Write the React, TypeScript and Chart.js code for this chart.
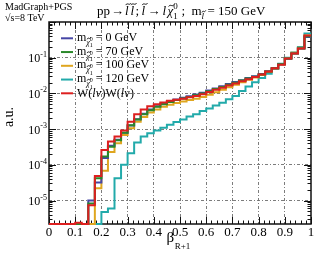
import React, { useEffect, useRef } from "react";
import { Chart, registerables } from "chart.js";

Chart.register(...registerables);

// ---------------- data ----------------
const BIN_EDGES = [
  0, 0.025, 0.05, 0.075, 0.1, 0.125, 0.15, 0.175, 0.2, 0.225, 0.25, 0.275, 0.3, 0.325,
  0.35, 0.375, 0.4, 0.425, 0.45, 0.475, 0.5, 0.525, 0.55, 0.575, 0.6, 0.625, 0.65, 0.675,
  0.7, 0.725, 0.75, 0.775, 0.8, 0.825, 0.85, 0.875, 0.9, 0.925, 0.95, 0.975, 1,
];

const M0_VALUES = [
  0, 0, 0, 0, 0, 0, 1.0e-5, 3.2e-5, 1.55e-4, 3.4e-4, 5.0e-4, 7.9e-4, 1.26e-3, 1.9e-3,
  2.7e-3, 3.55e-3, 4.4e-3, 5.2e-3, 6.0e-3, 6.8e-3, 7.6e-3, 8.3e-3, 9.3e-3, 1.05e-2,
  1.2e-2, 1.38e-2, 1.58e-2, 1.82e-2, 2.1e-2, 2.35e-2, 2.7e-2, 3.0e-2, 3.5e-2, 4.2e-2,
  5.1e-2, 6.6e-2, 9.3e-2, 0.132, 0.182, 0.38,
];
const M70_VALUES = [
  0, 0, 0, 0, 0, 0, 8.3e-6, 4.2e-5, 1.7e-4, 3.2e-4, 4.9e-4, 7.9e-4, 1.29e-3, 1.86e-3,
  2.6e-3, 3.4e-3, 4.2e-3, 5.0e-3, 5.75e-3, 6.5e-3, 7.2e-3, 7.9e-3, 8.9e-3, 1.0e-2,
  1.15e-2, 1.32e-2, 1.51e-2, 1.74e-2, 2.0e-2, 2.3e-2, 2.6e-2, 2.95e-2, 3.4e-2, 4.1e-2,
  5.1e-2, 6.6e-2, 9.5e-2, 0.132, 0.182, 0.4,
];
const M100_VALUES = [
  0, 0, 0, 0, 0, 0, 0, 2.2e-5, 6.8e-5, 2.3e-4, 4.0e-4, 6.8e-4, 1.05e-3, 1.6e-3,
  2.2e-3, 2.9e-3, 3.55e-3, 4.2e-3, 4.8e-3, 5.4e-3, 5.9e-3, 6.5e-3, 7.1e-3, 7.9e-3,
  9.1e-3, 1.07e-2, 1.26e-2, 1.48e-2, 1.74e-2, 2.04e-2, 2.4e-2, 2.8e-2, 3.3e-2, 4.0e-2,
  5.0e-2, 6.6e-2, 9.5e-2, 0.138, 0.19, 0.417,
];
const M120_VALUES = [
  0, 0, 0, 0, 0, 0, 0, 0, 4.8e-6, 6.0e-6, 4.2e-5, 1.0e-4, 2.1e-4, 4.2e-4,
  6.2e-4, 7.6e-4, 9.1e-4, 1.1e-3, 1.32e-3, 1.58e-3, 1.86e-3, 2.24e-3, 2.6e-3, 3.2e-3,
  3.8e-3, 4.6e-3, 5.5e-3, 6.9e-3, 8.5e-3, 1.17e-2, 1.55e-2, 2.04e-2, 2.7e-2, 3.55e-2,
  4.9e-2, 6.8e-2, 0.1, 0.141, 0.2, 0.48,
];
const WW_VALUES = [
  0, 0, 0, 0, 2.4e-6, 0, 7.4e-6, 4.9e-5, 2.6e-4, 4.5e-4, 6.2e-4, 9.1e-4, 1.6e-3, 2.6e-3,
  3.55e-3, 4.4e-3, 5.0e-3, 5.6e-3, 6.2e-3, 6.6e-3, 7.1e-3, 7.8e-3, 8.5e-3, 9.5e-3,
  1.1e-2, 1.26e-2, 1.45e-2, 1.66e-2, 1.9e-2, 2.2e-2, 2.5e-2, 2.9e-2, 3.4e-2, 4.1e-2,
  5.1e-2, 6.3e-2, 9.5e-2, 0.132, 0.182, 0.417,
];

const NEUTRALINO_MASSES = ["0", "70", "100", "120"];

const X_TICKS = [0, 0.1, 0.2, 0.3, 0.4, 0.5, 0.6, 0.7, 0.8, 0.9, 1];
const X_TICK_LABELS = ["0", "0.1", "0.2", "0.3", "0.4", "0.5", "0.6", "0.7", "0.8", "0.9", "1"];
const X_GRID = [0.1, 0.2, 0.3, 0.4, 0.5, 0.6, 0.7, 0.8, 0.9];
const Y_TICKS = [1e-5, 1e-4, 1e-3, 1e-2, 1e-1];
const Y_TICK_EXPONENTS = ["-5", "-4", "-3", "-2", "-1"];

const Y_MIN = 2.2e-6;
const Y_MAX = 1;

// ---------------- style ----------------
const C_BLUE = "#4646a5";
const C_GREEN = "#2a882a";
const C_YELLOW = "#dfa61f";
const C_CYAN = "#22aaaa";
const C_RED = "#dd1f1f";
const SERIF = '"Liberation Serif", "DejaVu Serif", serif';

function fnt(size: number, italic = false) {
  return `${italic ? "italic " : ""}${size}px ${SERIF}`;
}

function txt(ctx: CanvasRenderingContext2D, s: string, x: number, y: number, size: number, italic = false, align: CanvasTextAlign = "left") {
  ctx.font = fnt(size, italic);
  ctx.textAlign = align;
  ctx.textBaseline = "alphabetic";
  ctx.fillText(s, x, y);
  return ctx.measureText(s).width;
}

function tilde(ctx: CanvasRenderingContext2D, cx: number, y: number, w: number) {
  ctx.save();
  ctx.lineWidth = 0.9;
  ctx.strokeStyle = "#000";
  ctx.beginPath();
  const x0 = cx - w / 2;
  ctx.moveTo(x0, y + 1);
  ctx.bezierCurveTo(x0 + w * 0.35, y - 2, x0 + w * 0.65, y + 2, x0 + w, y - 1);
  ctx.stroke();
  ctx.restore();
}

function histPoints(vals: number[]) {
  const pts = vals.map((v, i) => ({ x: BIN_EDGES[i], y: v > 0 ? v : Y_MIN }));
  const last = vals[vals.length - 1];
  pts.push({ x: BIN_EDGES[vals.length], y: last > 0 ? last : Y_MIN });
  return pts;
}

const framePlugin = {
  id: "rootFrame",
  beforeDatasetsDraw(chart: any) {
    const ctx: CanvasRenderingContext2D = chart.ctx;
    const a = chart.chartArea;
    const xs = chart.scales.x;
    const ys = chart.scales.y;
    ctx.save();
    ctx.strokeStyle = "#111";
    ctx.lineWidth = 1;
    const seg = (x1: number, y1: number, x2: number, y2: number) => {
      ctx.beginPath();
      ctx.moveTo(x1, y1);
      ctx.lineTo(x2, y2);
      ctx.stroke();
    };
    // x ticks (inside, top & bottom)
    for (let k = 0; k <= 50; k++) {
      const px = Math.round(xs.getPixelForValue(k / 50)) + 0.5;
      const L = k % 5 === 0 ? 7 : 3.5;
      seg(px, a.bottom, px, a.bottom - L);
      seg(px, a.top, px, a.top + L);
    }
    // y ticks (inside, left & right)
    for (let e = -6; e <= 0; e++) {
      for (let m = 1; m <= 9; m++) {
        const v = m * Math.pow(10, e);
        if (v < Y_MIN || v > Y_MAX) continue;
        const py = Math.round(ys.getPixelForValue(v)) + 0.5;
        const L = m === 1 ? 7 : 3.5;
        seg(a.left, py, a.left + L, py);
        seg(a.right, py, a.right - L, py);
      }
    }
    // frame
    ctx.lineWidth = 1.5;
    ctx.strokeRect(a.left, a.top, a.right - a.left, a.bottom - a.top);
    ctx.restore();
  },
};

const textPlugin = {
  id: "rootText",
  afterDatasetsDraw(chart: any) {
    const ctx: CanvasRenderingContext2D = chart.ctx;
    const a = chart.chartArea;
    const xs = chart.scales.x;
    const ys = chart.scales.y;
    ctx.save();
    ctx.fillStyle = "#000";
    const seg = (x1: number, y1: number, x2: number, y2: number) => {
      ctx.beginPath();
      ctx.moveTo(x1, y1);
      ctx.lineTo(x2, y2);
      ctx.stroke();
    };

    // x tick labels
    X_TICKS.forEach((v, i) => {
      txt(ctx, X_TICK_LABELS[i], xs.getPixelForValue(v), a.bottom + 12, 13, false, "center");
    });
    // y tick labels
    Y_TICKS.forEach((v, i) => {
      const py = ys.getPixelForValue(v);
      const right = a.left - 2;
      const ew = txt(ctx, Y_TICK_EXPONENTS[i], right, py - 1, 8, false, "right");
      txt(ctx, "10", right - ew, py + 4.5, 12, false, "right");
    });

    // axis titles
    ctx.save();
    ctx.translate(13.3, 117);
    ctx.rotate(-Math.PI / 2);
    txt(ctx, "a.u.", 0, 0, 14, false, "center");
    ctx.restore();
    const bw = txt(ctx, "\u03b2", 166.5, 242, 15);
    txt(ctx, "R+1", 166.5 + bw + 0.5, 248.5, 9);

    // corner labels
    txt(ctx, "MadGraph+PGS", 5, 10, 10);
    txt(ctx, "\u221as=8 TeV", 5, 21, 10);

    // title (pieces placed along the line)
    {
      const y = 15;
      const S = 13;
      const tl = (x: number, size: number, by: number) => {
        const w = txt(ctx, "l", x, by, size, true);
        tilde(ctx, x + w / 2 + size * 0.12, by - size * 0.84, size * 0.42);
      };
      txt(ctx, "pp", 97, y, S);
      txt(ctx, "\u2192", 111, y, S);
      tl(125, S, y);
      tl(130.5, S, y);
      txt(ctx, ";", 135.5, y, S);
      tl(141.5, S, y);
      txt(ctx, "\u2192", 147.5, y, S);
      txt(ctx, "l", 162.5, y, S, true);
      const cw = txt(ctx, "\u03c7", 167.5, y, S, true);
      tilde(ctx, 167.5 + cw / 2 + 1, y - 9.5, 5.5);
      txt(ctx, "0", 167.5 + cw, y - 6, 9);
      txt(ctx, "1", 167.5 + cw, y + 3.5, 9);
      txt(ctx, ";", 181.5, y, S);
      txt(ctx, "m", 191.5, y, S);
      tl(201.5, 9, y + 4);
      txt(ctx, "= 150 GeV", 207.5, y, S);
    }

    // legend
    const colors = [C_BLUE, C_GREEN, C_YELLOW, C_CYAN, C_RED];
    const y0 = 38.3;
    const dy = 13.75;
    colors.forEach((c, i) => {
      const yl = y0 + i * dy;
      ctx.save();
      ctx.strokeStyle = c;
      ctx.lineWidth = 2;
      seg(61, yl, 73, yl);
      ctx.restore();
      let x = 77;
      if (i < 4) {
        const base = yl + 2.5;
        x += txt(ctx, "m", x, base, 12);
        const sw = txt(ctx, "\u03c7", x, base + 4, 8, true);
        tilde(ctx, x + sw / 2 + 0.8, base - 2.5, 3.5);
        const a0 = txt(ctx, "0", x + sw, base, 6);
        const a1 = txt(ctx, "1", x + sw, base + 6.5, 6);
        x += sw + Math.max(a0, a1);
        txt(ctx, ` = ${NEUTRALINO_MASSES[i]} GeV`, x, base, 12);
      } else {
        const base = yl + 4;
        const parts: [string, boolean][] = [["W(", false], ["l\u03bd", true], [")W(", false], ["l\u03bd", true], [")", false]];
        parts.forEach(([s, it]) => {
          x += txt(ctx, s, x, base, 12, it);
          if (it) x += 0.5;
        });
      }
    });
    ctx.restore();
  },
};

export default function App() {
  const ref = useRef<HTMLCanvasElement>(null);
  useEffect(() => {
    const canvas = ref.current;
    if (!canvas) return;
    const mk = (label: string, vals: number[], color: string) => ({
      label,
      data: histPoints(vals),
      borderColor: color,
      backgroundColor: color,
      borderWidth: 2,
      stepped: "before" as const,
      pointRadius: 0,
      fill: false,
      clip: { left: 0, top: 0, right: 1, bottom: 1.5 },
    });
    const chart = new Chart(canvas, {
      type: "line",
      data: {
        datasets: [
          mk("W(lν)W(lν)", WW_VALUES, C_RED),
          mk("m = 70 GeV", M70_VALUES, C_GREEN),
          mk("m = 0 GeV", M0_VALUES, C_BLUE),
          mk("m = 100 GeV", M100_VALUES, C_YELLOW),
          mk("m = 120 GeV", M120_VALUES, C_CYAN),
        ],
      },
      options: {
        animation: false,
        responsive: false,
        maintainAspectRatio: false,
        layout: { padding: { left: 49, top: 22, right: 21, bottom: 39 } },
        plugins: {
          legend: { display: false },
          tooltip: { enabled: false },
          title: { display: false },
        },
        elements: { point: { radius: 0 }, line: { tension: 0 } },
        scales: {
          x: {
            type: "linear",
            min: 0,
            max: 1,
            bounds: "data",
            afterFit: (s: any) => {
              s.height = 0;
            },
            afterBuildTicks: (s: any) => {
              s.ticks = X_GRID.map((v) => ({ value: v }));
            },
            ticks: { display: false },
            grid: { color: "rgba(110,110,110,0.9)", lineWidth: 1, drawTicks: false },
            border: { display: false, dash: [3, 2, 1, 2] },
          },
          y: {
            type: "logarithmic",
            min: Y_MIN,
            max: Y_MAX,
            bounds: "data",
            afterFit: (s: any) => {
              s.width = 0;
            },
            afterBuildTicks: (s: any) => {
              s.ticks = Y_TICKS.map((v) => ({ value: v }));
            },
            ticks: { display: false },
            grid: { color: "rgba(110,110,110,0.9)", lineWidth: 1, drawTicks: false },
            border: { display: false, dash: [3, 2, 1, 2] },
          },
        },
      } as any,
      plugins: [framePlugin, textPlugin],
    });
    return () => chart.destroy();
  }, []);
  return (
    <div style={{ position: "absolute", left: 0, top: 0, width: 332, height: 263, background: "#fff" }}>
      <canvas ref={ref} width={332} height={263} style={{ display: "block", width: 332, height: 263 }} />
    </div>
  );
}
